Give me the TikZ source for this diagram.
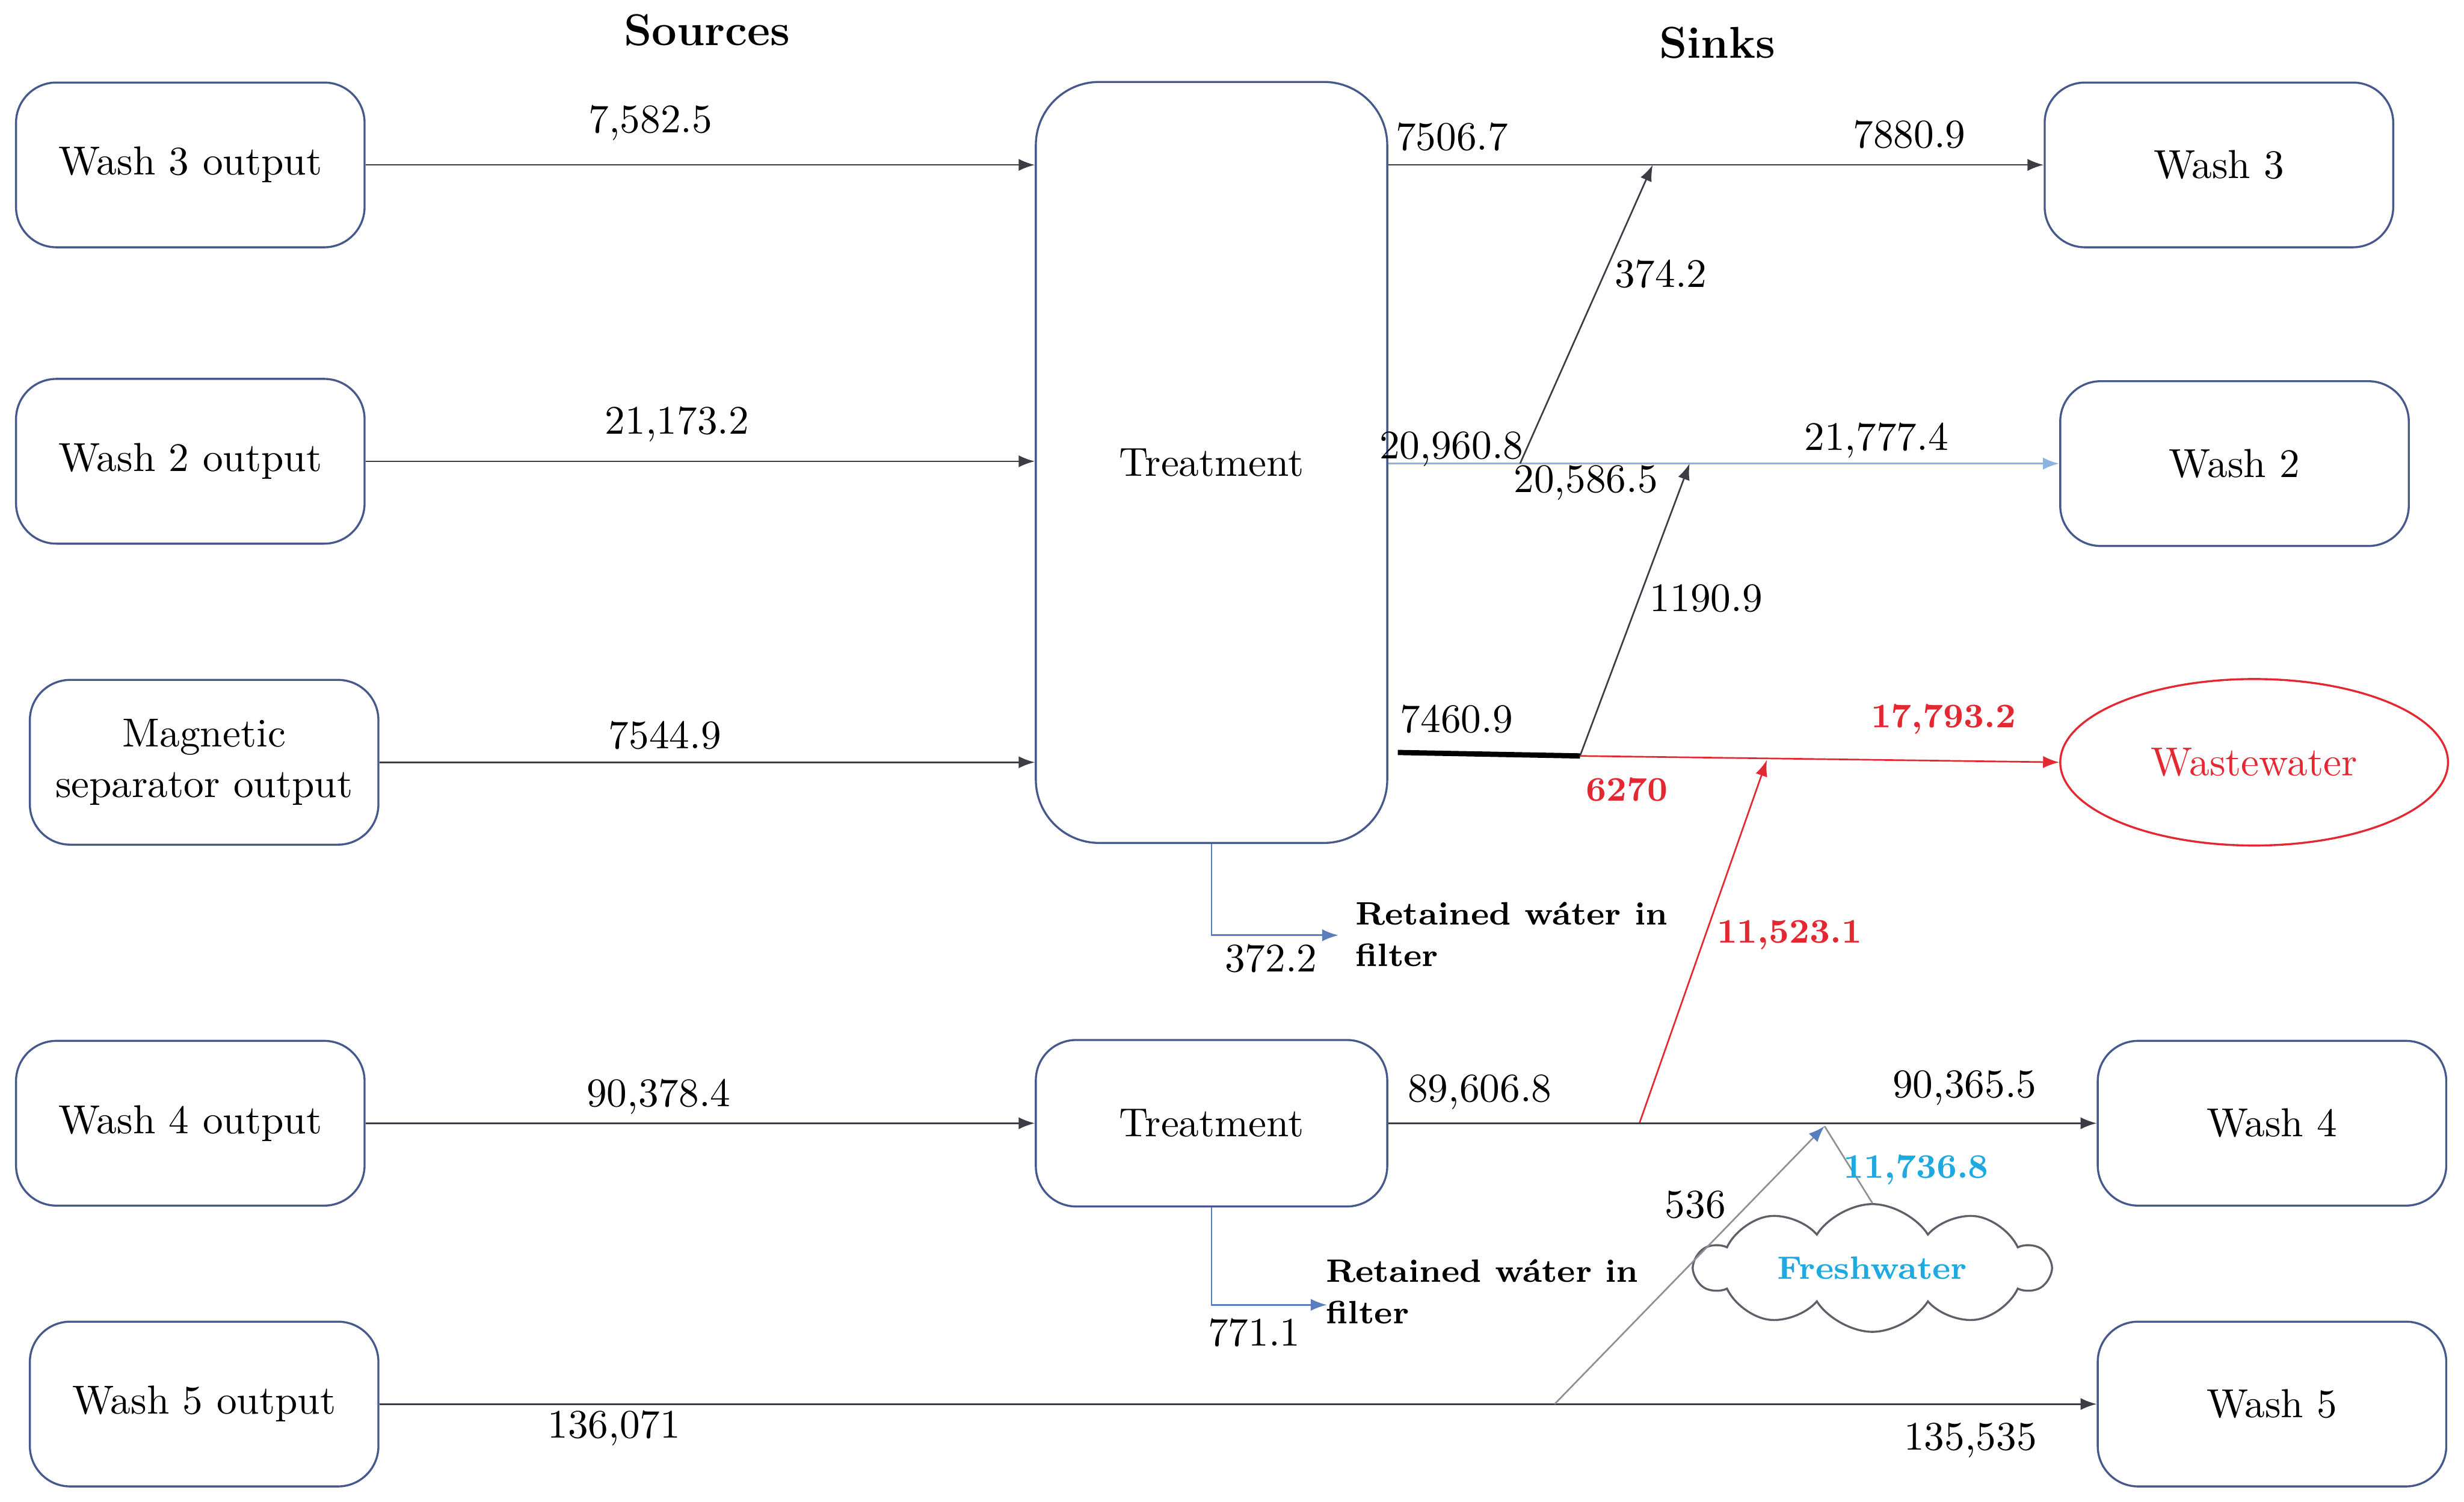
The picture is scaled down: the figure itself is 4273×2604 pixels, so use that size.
\documentclass[tikz,border=0pt]{standalone}
\usepackage{fontspec}
\usetikzlibrary{arrows.meta,shapes.geometric,shapes.symbols}
\definecolor{boxc}{RGB}{70,88,140}
\definecolor{linec}{RGB}{60,60,70}
\definecolor{lblue}{RGB}{140,180,225}
\definecolor{wred}{RGB}{228,40,50}
\definecolor{fcyan}{RGB}{30,170,225}
\definecolor{fblue}{RGB}{90,125,190}
\definecolor{cloudc}{RGB}{95,95,105}
\begin{document}
\begin{tikzpicture}[x=0.005cm,y=-0.005cm,
  box/.style={draw=boxc, line width=0.5pt, rounded corners=0.35cm, minimum width=3.025cm, minimum height=1.43cm, align=center, font=\fontsize{10}{12.5}\selectfont},
  flow/.style={draw=linec, line width=0.4pt, -{Latex[length=4pt,width=3pt]}},
  flowlb/.style={draw=lblue, line width=0.5pt, -{Latex[length=4pt,width=3pt]}},
  flowred/.style={draw=wred, line width=0.4pt, -{Latex[length=4pt,width=3pt]}},
  flowblue/.style={draw=fblue, line width=0.4pt, -{Latex[length=4pt,width=3pt]}},
  lbl/.style={font=\fontsize{10}{12}\selectfont, inner sep=0pt},
  rlbl/.style={font=\fontsize{8.5}{10}\selectfont\bfseries, text=wred, inner sep=0pt},
  blbl/.style={font=\fontsize{8.5}{10}\selectfont\bfseries, text=fcyan, inner sep=0pt},
  rwlbl/.style={font=\fontsize{8}{10.2}\selectfont\bfseries, align=left, inner sep=0pt, anchor=west},
  title/.style={font=\fontsize{11}{13}\selectfont\bfseries, inner sep=0pt}
]
\useasboundingbox (0,0) rectangle (4273,2604);

% titles
\node[title] (tsrc) at (1226,52) {Sources};
\node[title] (tsnk) at (2978,74) {Sinks};

% source boxes
\node[box] (w3o) at (330,286) {Wash 3 output};
\node[box] (w2o) at (330,800) {Wash 2 output};
\node[box] (mso) at (354,1322) {Magnetic\\separator output};
\node[box] (w4o) at (330,1948) {Wash 4 output};
\node[box] (w5o) at (354,2435) {Wash 5 output};

% treatments
\node[box, minimum width=3.05cm, minimum height=6.605cm, rounded corners=0.55cm] (tr1) at (2101,802) {Treatment};
\node[box, minimum width=3.05cm, minimum height=1.445cm] (tr2) at (2101,1948) {Treatment};

% sinks
\node[box] (w3) at (3848,286) {Wash 3};
\node[box] (w2) at (3875,804) {Wash 2};
\node[ellipse, draw=wred, line width=0.5pt, minimum width=3.365cm, minimum height=1.445cm, inner sep=0pt, text=wred, font=\fontsize{10}{12}\selectfont] (ww) at (3909,1322) {Wastewater};
\node[box] (w4) at (3940,1948) {Wash 4};
\node[box] (w5) at (3940,2435) {Wash 5};
\node[cloud, draw=cloudc, line width=0.5pt, cloud puffs=10, cloud puff arc=115, aspect=3.1, minimum width=3.07cm, minimum height=0.99cm, inner sep=0pt, text=fcyan, font=\fontsize{8}{10}\selectfont\bfseries] (fw) at (3247,2199) {Freshwater};

% source flows
\draw[flow] (w3o.east) -- (w3o.east -| tr1.west);
\draw[flow] (w2o.east) -- (w2o.east -| tr1.west);
\draw[flow] (mso.east) -- (mso.east -| tr1.west);
\draw[flow] (w4o.east) -- (tr2.west);
\draw[flow] (w5o.east) -- (w5.west);

% top sink flows
\draw[flow] (w3o.east -| tr1.east) -- (w3.west);
\draw[flowlb] (w2.west -| tr1.east) -- (w2.west);
\coordinate (a1) at (2636,804);
\coordinate (a2) at (2866,286);
\draw[flow] (a1) -- (a2);
\coordinate (b1) at (2740,1311);
\coordinate (b2) at (2930,804);
\draw[flow] (b1) -- (b2);
\coordinate (k0) at (2424,1305);
\draw[line width=1.3pt, black] (k0) -- (b1);
\draw[flowred] (b1) -- (ww.west);
\coordinate (r1) at (2843,1948);
\coordinate (r2) at (3064,1318);
\draw[flowred] (r1) -- (r2);

% lower flows
\draw[flow] (tr2.east) -- (w4.west);
\coordinate (c1) at (2696,2435);
\coordinate (c2) at (3164,1953);
\draw[draw=cloudc!70, line width=0.4pt, -{Latex[length=4pt,width=3pt,color=fblue]}] (c1) -- (c2);
\draw[draw=cloudc!70, line width=0.4pt] (fw.north) -- (c2);

% retained water
\coordinate (rw1) at (2321,1622);
\draw[flowblue] (tr1.south) |- (rw1);
\coordinate (rw2) at (2301,2263);
\draw[flowblue] (tr2.south) |- (rw2);
\node[rwlbl] (rt1) at (2349,1620) {Retained wáter in\\filter};
\node[rwlbl] (rt2) at (2298,2240) {Retained wáter in\\filter};

% labels
\node[lbl] (l1) at (1128,213) {7,582.5};
\node[lbl] (l2) at (1174,736) {21,173.2};
\node[lbl] (l3) at (1153,1275) {7544.9};
\node[lbl] (l4) at (1142,1902) {90,378.4};
\node[lbl] (l5) at (1065,2477) {136,071};
\node[lbl] (l6) at (3417,2498) {135,535};
\node[lbl] (l7) at (2518,237) {7506.7};
\node[lbl] (l8) at (3311,233) {7880.9};
\node[lbl] (l9) at (2880,475) {374.2};
\node[lbl] (l10) at (2517,779) {20,960.8};
\node[lbl] (l11) at (2750,837) {20,586.5};
\node[lbl] (l12) at (3254,764) {21,777.4};
\node[lbl] (l13) at (2959,1038) {1190.9};
\node[lbl] (l14) at (2526,1247) {7460.9};
\node[rlbl] (l15) at (3370,1247) {17,793.2};
\node[rlbl] (l16) at (2821,1369) {6270};
\node[rlbl] (l17) at (3103,1621) {11,523.1};
\node[lbl] (l18) at (2566,1894) {89,606.8};
\node[lbl] (l19) at (3407,1887) {90,365.5};
\node[lbl] (l20) at (2940,2089) {536};
\node[blbl] (l21) at (3323,2029) {11,736.8};
\node[lbl] (l22) at (2204,1662) {372.2};
\node[lbl] (l23) at (2175,2311) {771.1};
\end{tikzpicture}
\end{document}
